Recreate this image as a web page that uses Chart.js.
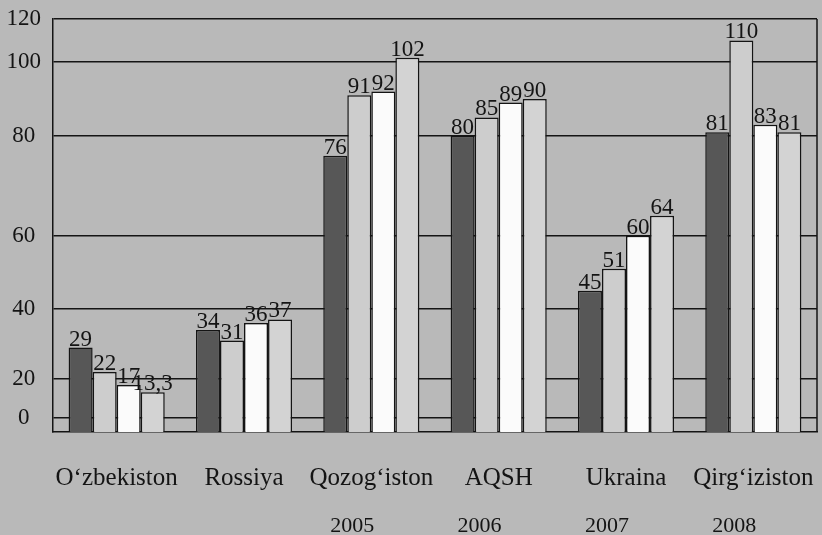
<!DOCTYPE html>
<html lang="uz">
<head>
    <meta charset="UTF-8">
    <title>Diagramma</title>
    <script src="https://cdn.jsdelivr.net/npm/chart.js"></script>
    <style>
        html, body { margin: 0; padding: 0; background: #b9b9b9; }
        .wrap { width: 822px; height: 535px; position: relative; }
    </style>
</head>
<body>
    <div class="wrap"><canvas id="grafik"></canvas></div>

    <script>
        const mamlakatlar = ['O‘zbekiston', 'Rossiya', 'Qozog‘iston', 'AQSH', 'Ukraina', 'Qirg‘iziston'];
        const yillar = ['2005', '2006', '2007', '2008'];
        const q2005 = [29, 34, 76, 80, 45, 81];
        const q2006 = [22, 31, 91, 85, 51, 110];
        const q2007 = [17, 36, 92, 89, 60, 83];
        const q2008 = [13.3, 37, 102, 90, 64, 81];
        const yTicks = [0, 20, 40, 60, 80, 100, 120];

        const SERIF = "'Liberation Serif', 'Times New Roman', serif";
        const INK = '#141414';

        // the original axis is drawn unevenly, so the value axis is piecewise linear
        const KNOT_V = [-7, 0, 20, 40, 60, 80, 100, 120];
        const KNOT_F = [0, 0.034, 0.128, 0.298, 0.475, 0.717, 0.896, 1];

        function lerp(x, xs, ys) {
            let i = 1;
            while (i < xs.length - 1 && x > xs[i]) i++;
            const t = (x - xs[i - 1]) / (xs[i] - xs[i - 1]);
            return ys[i - 1] + t * (ys[i] - ys[i - 1]);
        }

        class KnotScale extends Chart.LinearScale {
            static id = 'knot';
            static defaults = {};
            getPixelForValue(value) {
                if (value === null || isNaN(value)) return NaN;
                return this.getPixelForDecimal(lerp(value, KNOT_V, KNOT_F));
            }
            getValueForPixel(pixel) {
                return lerp(this.getDecimalForPixel(pixel), KNOT_F, KNOT_V);
            }
        }
        Chart.register(KnotScale);

        const fon = {
            id: 'fon',
            beforeDraw(chart) {
                const ctx = chart.ctx;
                ctx.save();
                ctx.fillStyle = '#b9b9b9';
                ctx.fillRect(0, 0, chart.width, chart.height);
                ctx.restore();
            }
        };

        const ramka = {
            id: 'ramka',
            beforeDatasetsDraw(chart) {
                const {ctx, chartArea: a} = chart;
                ctx.save();
                ctx.strokeStyle = INK;
                ctx.lineWidth = 1.5;
                ctx.beginPath();
                ctx.moveTo(a.right, a.top);
                ctx.lineTo(a.right, a.bottom);
                ctx.stroke();
                ctx.restore();
            }
        };

        const qiymatlar = {
            id: 'qiymatlar',
            afterDatasetsDraw(chart) {
                const ctx = chart.ctx;
                ctx.save();
                ctx.font = '23px ' + SERIF;
                ctx.fillStyle = INK;
                ctx.textAlign = 'center';
                ctx.textBaseline = 'alphabetic';
                chart.data.datasets.forEach((ds, i) => {
                    chart.getDatasetMeta(i).data.forEach((bar, j) => {
                        ctx.fillText(String(ds.data[j]).replace('.', ','), bar.x, bar.y - 2);
                    });
                });
                ctx.restore();
            }
        };

        const yilQatori = {
            id: 'yilQatori',
            afterDraw(chart) {
                const {ctx, scales: {x}} = chart;
                ctx.save();
                ctx.font = '22px ' + SERIF;
                ctx.fillStyle = INK;
                ctx.textAlign = 'center';
                ctx.textBaseline = 'alphabetic';
                yillar.forEach((y, i) => {
                    ctx.fillText(y, x.getPixelForValue(1.85 + i), chart.height - 3);
                });
                ctx.restore();
            }
        };

        new Chart(document.getElementById('grafik'), {
            type: 'bar',
            data: {
                labels: mamlakatlar,
                datasets: [
                    { label: yillar[0], data: q2005, backgroundColor: '#575757' },
                    { label: yillar[1], data: q2006, backgroundColor: '#cdcdcd' },
                    { label: yillar[2], data: q2007, backgroundColor: '#fbfbfb' },
                    { label: yillar[3], data: q2008, backgroundColor: '#d3d3d3' }
                ]
            },
            options: {
                responsive: true,
                maintainAspectRatio: false,
                animation: false,
                layout: { padding: { top: 19, right: 5, bottom: 33, left: 0 } },
                datasets: {
                    bar: {
                        base: -7,
                        categoryPercentage: 0.755,
                        barPercentage: 1,
                        borderWidth: 1.5,
                        borderColor: INK
                    }
                },
                plugins: {
                    legend: { display: false },
                    tooltip: { enabled: false }
                },
                scales: {
                    x: {
                        afterFit: s => { s.height = 70; s.paddingLeft = 0; s.paddingRight = 0; },
                        grid: { display: false },
                        border: { display: true, color: INK, width: 1.5 },
                        ticks: {
                            color: INK,
                            font: { family: SERIF, size: 25 },
                            padding: 23,
                            maxRotation: 0,
                            autoSkip: false
                        }
                    },
                    y: {
                        type: 'knot',
                        min: -7,
                        max: 120,
                        afterBuildTicks: s => { s.ticks = yTicks.map(v => ({ value: v })); },
                        afterFit: s => { s.width = 53; s.paddingTop = 0; s.paddingBottom = 0; },
                        grid: { color: INK, lineWidth: 1.5, drawTicks: false },
                        border: { display: true, color: INK, width: 1.5 },
                        ticks: {
                            color: INK,
                            font: { family: SERIF, size: 23 },
                            crossAlign: 'center',
                            padding: 12
                        }
                    }
                }
            },
            plugins: [fon, ramka, qiymatlar, yilQatori]
        });
    </script>
</body>
</html>
